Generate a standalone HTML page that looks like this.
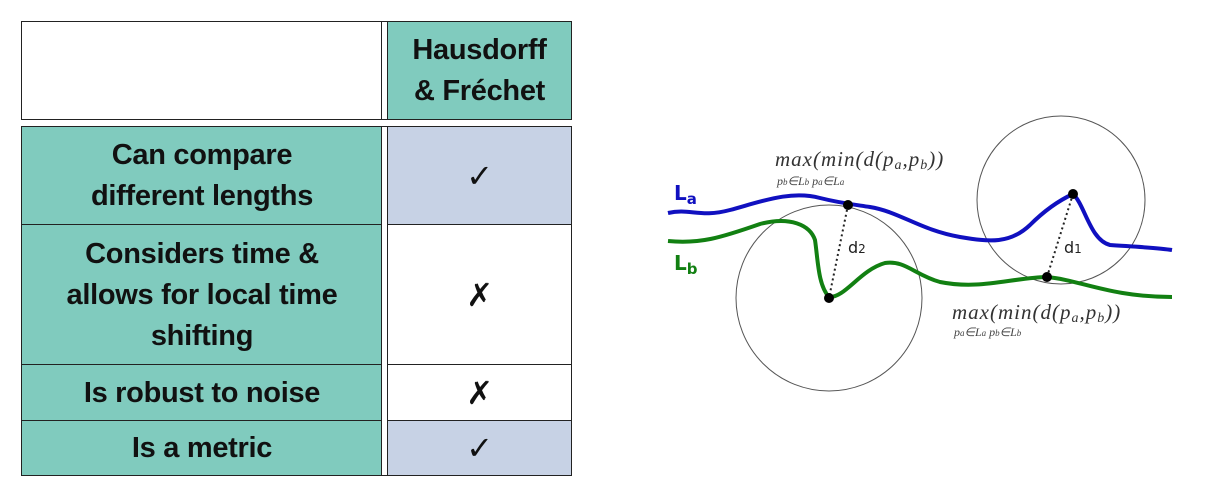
<!DOCTYPE html>
<html><head><meta charset="utf-8"><style>
body{margin:0;width:1227px;height:496px;background:#fff;position:relative;overflow:hidden;font-family:"Liberation Sans",sans-serif}
.c{position:absolute;box-sizing:border-box;display:flex;align-items:center;justify-content:center;text-align:center;font-weight:bold;font-size:29px;line-height:41px;color:#111;border:1.6px solid #222;letter-spacing:-0.3px}
.t{background:#80cbbe}.b{background:#c7d2e5}.w{background:#fff}
.m{font-family:"DejaVu Sans",sans-serif;font-size:32px}
</style></head><body>
<div class="c w" style="left:21px;top:21px;width:362px;height:99px"></div>
<div class="c w" style="left:381px;top:21px;width:8px;height:99px"></div>
<div class="c t" style="left:387px;top:21px;width:185px;height:99px">Hausdorff<br>&amp; Fréchet</div>

<div class="c t" style="left:21px;top:126px;width:362px;height:100px">Can compare<br>different lengths</div>
<div class="c t" style="left:21px;top:224px;width:362px;height:142px">Considers time &amp;<br>allows for local time<br>shifting</div>
<div class="c t" style="left:21px;top:364px;width:362px;height:58px">Is robust to noise</div>
<div class="c t" style="left:21px;top:420px;width:362px;height:56px">Is a metric</div>
<div class="c w" style="left:381px;top:126px;width:8px;height:350px"></div>
<div class="c b m" style="left:387px;top:126px;width:185px;height:100px">✓</div>
<div class="c w m" style="left:387px;top:224px;width:185px;height:142px">✗</div>
<div class="c w m" style="left:387px;top:364px;width:185px;height:58px">✗</div>
<div class="c b m" style="left:387px;top:420px;width:185px;height:56px">✓</div>

<svg width="1227" height="496" style="position:absolute;left:0;top:0">
<circle cx="829" cy="298" r="93" fill="none" stroke="#555" stroke-width="1"/>
<circle cx="1061" cy="200" r="84" fill="none" stroke="#555" stroke-width="1"/>
<path d="M668,213 C690,208 700,218 730,210 C760,202 790,190 820,198 C840,203 850,204 870,207 C900,212 920,230 960,237 C990,242 1010,244 1030,225 C1045,210 1060,200 1073,194 C1085,205 1090,240 1110,245 C1140,247 1160,248 1172,250" fill="none" stroke="#1010c0" stroke-width="4"/>
<path d="M668,241 C700,244 720,238 760,224 C790,216 810,225 815,240 C818,260 818,285 829,297 C845,298 860,270 885,263 C905,260 915,275 940,282 C980,290 1010,278 1047,277 C1080,280 1110,297 1172,297" fill="none" stroke="#128012" stroke-width="4"/>
<line x1="848" y1="205" x2="829" y2="298" stroke="#222" stroke-width="2" stroke-dasharray="2,3"/>
<line x1="1073" y1="194" x2="1047" y2="277" stroke="#222" stroke-width="2" stroke-dasharray="2,3"/>
<circle cx="848" cy="205" r="5" fill="#000"/><circle cx="829" cy="298" r="5" fill="#000"/>
<circle cx="1073" cy="194" r="5" fill="#000"/><circle cx="1047" cy="277" r="5" fill="#000"/>
<text x="674" y="200" font-family="DejaVu Sans" font-weight="bold" font-size="20" fill="#1010c0">L<tspan font-size="15" dy="4">a</tspan></text>
<text x="674" y="270" font-family="DejaVu Sans" font-weight="bold" font-size="20" fill="#128012">L<tspan font-size="15" dy="4">b</tspan></text>
<text x="848" y="253" font-family="DejaVu Sans" font-size="16" fill="#222">d<tspan font-size="12">2</tspan></text>
<text x="1064" y="253" font-family="DejaVu Sans" font-size="16" fill="#222">d<tspan font-size="12">1</tspan></text>
<text x="775" y="166" font-family="Liberation Serif" font-style="italic" font-size="21" letter-spacing="1" fill="#333">max(min(d(p<tspan font-size="14" dy="3">a</tspan><tspan dy="-3">,p</tspan><tspan font-size="14" dy="3">b</tspan><tspan dy="-3">))</tspan></text>
<text x="777" y="185" font-family="Liberation Serif" font-style="italic" font-size="12" fill="#444">p<tspan font-size="9">b</tspan>∈L<tspan font-size="9">b</tspan>  p<tspan font-size="9">a</tspan>∈L<tspan font-size="9">a</tspan></text>
<text x="952" y="319" font-family="Liberation Serif" font-style="italic" font-size="21" letter-spacing="1" fill="#333">max(min(d(p<tspan font-size="14" dy="3">a</tspan><tspan dy="-3">,p</tspan><tspan font-size="14" dy="3">b</tspan><tspan dy="-3">))</tspan></text>
<text x="954" y="336" font-family="Liberation Serif" font-style="italic" font-size="12" fill="#444">p<tspan font-size="9">a</tspan>∈L<tspan font-size="9">a</tspan>  p<tspan font-size="9">b</tspan>∈L<tspan font-size="9">b</tspan></text>
</svg>
</body></html>
